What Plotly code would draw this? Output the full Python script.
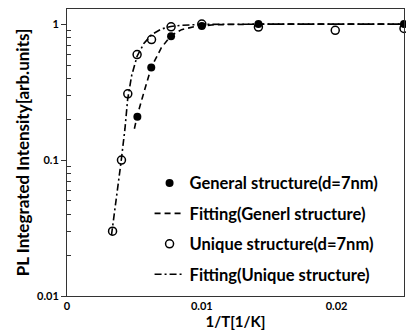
import plotly.graph_objects as go

# Data
x_general = [0.00522, 0.00625, 0.00772, 0.0100, 0.0142, 0.0250]
y_general = [0.208, 0.48, 0.815, 0.97, 1.0, 1.0]

x_unique = [0.00338, 0.00404, 0.00451, 0.00520, 0.00627, 0.00772, 0.0100, 0.0142, 0.0199, 0.0250]
y_unique = [0.030, 0.100, 0.307, 0.597, 0.77, 0.955, 1.0, 0.95, 0.90, 0.93]

x_fit_general = [0.0050, 0.0052, 0.0056, 0.0060, 0.00625, 0.0070, 0.0077, 0.0085, 0.0095, 0.0110, 0.0150, 0.0250]
y_fit_general = [0.17, 0.21, 0.29, 0.40, 0.48, 0.67, 0.82, 0.91, 0.96, 0.99, 1.0, 1.0]

x_fit_unique = [0.0033, 0.0037, 0.0040, 0.0043, 0.0045, 0.0048, 0.0052, 0.0057, 0.0063, 0.0070, 0.0077, 0.0085, 0.0100, 0.0150, 0.0250]
y_fit_unique = [0.028, 0.055, 0.095, 0.17, 0.28, 0.42, 0.58, 0.72, 0.84, 0.92, 0.96, 0.98, 0.995, 1.0, 1.0]

names = ["General structure(d=7nm)", "Fitting(Generl structure)",
         "Unique structure(d=7nm)", "Fitting(Unique structure)"]

y_minor_ticks = [0.02, 0.03, 0.04, 0.05, 0.06, 0.07, 0.08, 0.09,
                 0.2, 0.3, 0.4, 0.5, 0.6, 0.7, 0.8, 0.9]

FONT = "Lato"

fig = go.Figure()
fig.add_trace(go.Scatter(x=x_fit_general, y=y_fit_general, mode="lines", name=names[1],
                         line=dict(color="black", width=1.6, dash="6px,4px"),
                         legendrank=2, legendgroup="b"))
fig.add_trace(go.Scatter(x=x_fit_unique, y=y_fit_unique, mode="lines", name=names[3],
                         line=dict(color="black", width=1.6, dash="7px,3px,2px,3px"),
                         legendrank=4, legendgroup="d"))
fig.add_trace(go.Scatter(x=x_general, y=y_general, mode="markers", name=names[0],
                         marker=dict(symbol="circle", size=8, color="black"),
                         cliponaxis=False, legendrank=1, legendgroup="a"))
fig.add_trace(go.Scatter(x=x_unique, y=y_unique, mode="markers", name=names[2],
                         marker=dict(symbol="circle-open", size=8, color="black",
                                     line=dict(width=1.5)),
                         cliponaxis=False, legendrank=3, legendgroup="c"))

fig.update_layout(
    width=406, height=336,
    margin=dict(l=67, r=2, t=9, b=40),
    paper_bgcolor="white", plot_bgcolor="white",
    font=dict(family=FONT, color="black"),
    showlegend=True,
    legend=dict(x=0.245, xanchor="left", y=0.015, yanchor="bottom",
                bgcolor="rgba(0,0,0,0)",
                font=dict(family=FONT, size=16.5, color="black", weight="bold"),
                tracegroupgap=6, itemwidth=30),
)
fig.update_xaxes(
    range=[0, 0.025], tickvals=[0, 0.01, 0.02], ticktext=["0", "0.01", "0.02"],
    ticks="", showgrid=False, zeroline=False,
    showline=True, linecolor="#333", linewidth=1, mirror=True,
    tickfont=dict(family=FONT, size=11, color="black", weight="bold"),
    title=dict(text="<b>1/T[1/K]</b>", font=dict(family=FONT, size=15), standoff=5),
)
fig.update_yaxes(
    type="log", range=[-2.0, 0.111], tickvals=[0.01, 0.1, 1], ticktext=["0.01", "0.1", "1"],
    ticks="outside", ticklen=5, tickcolor="#333", showgrid=False, zeroline=False,
    minor=dict(tickvals=y_minor_ticks, ticks="inside", ticklen=4, tickcolor="#333", showgrid=False),
    showline=True, linecolor="#333", linewidth=1, mirror=True,
    tickfont=dict(family=FONT, size=11, color="black", weight="bold"),
    title=dict(text="<b>PL Integrated Intensity[arb.units]</b>", font=dict(family=FONT, size=17), standoff=3),
)

fig.write_html("out.html", config={"displayModeBar": False},
               post_script="document.body.style.margin='0';")
